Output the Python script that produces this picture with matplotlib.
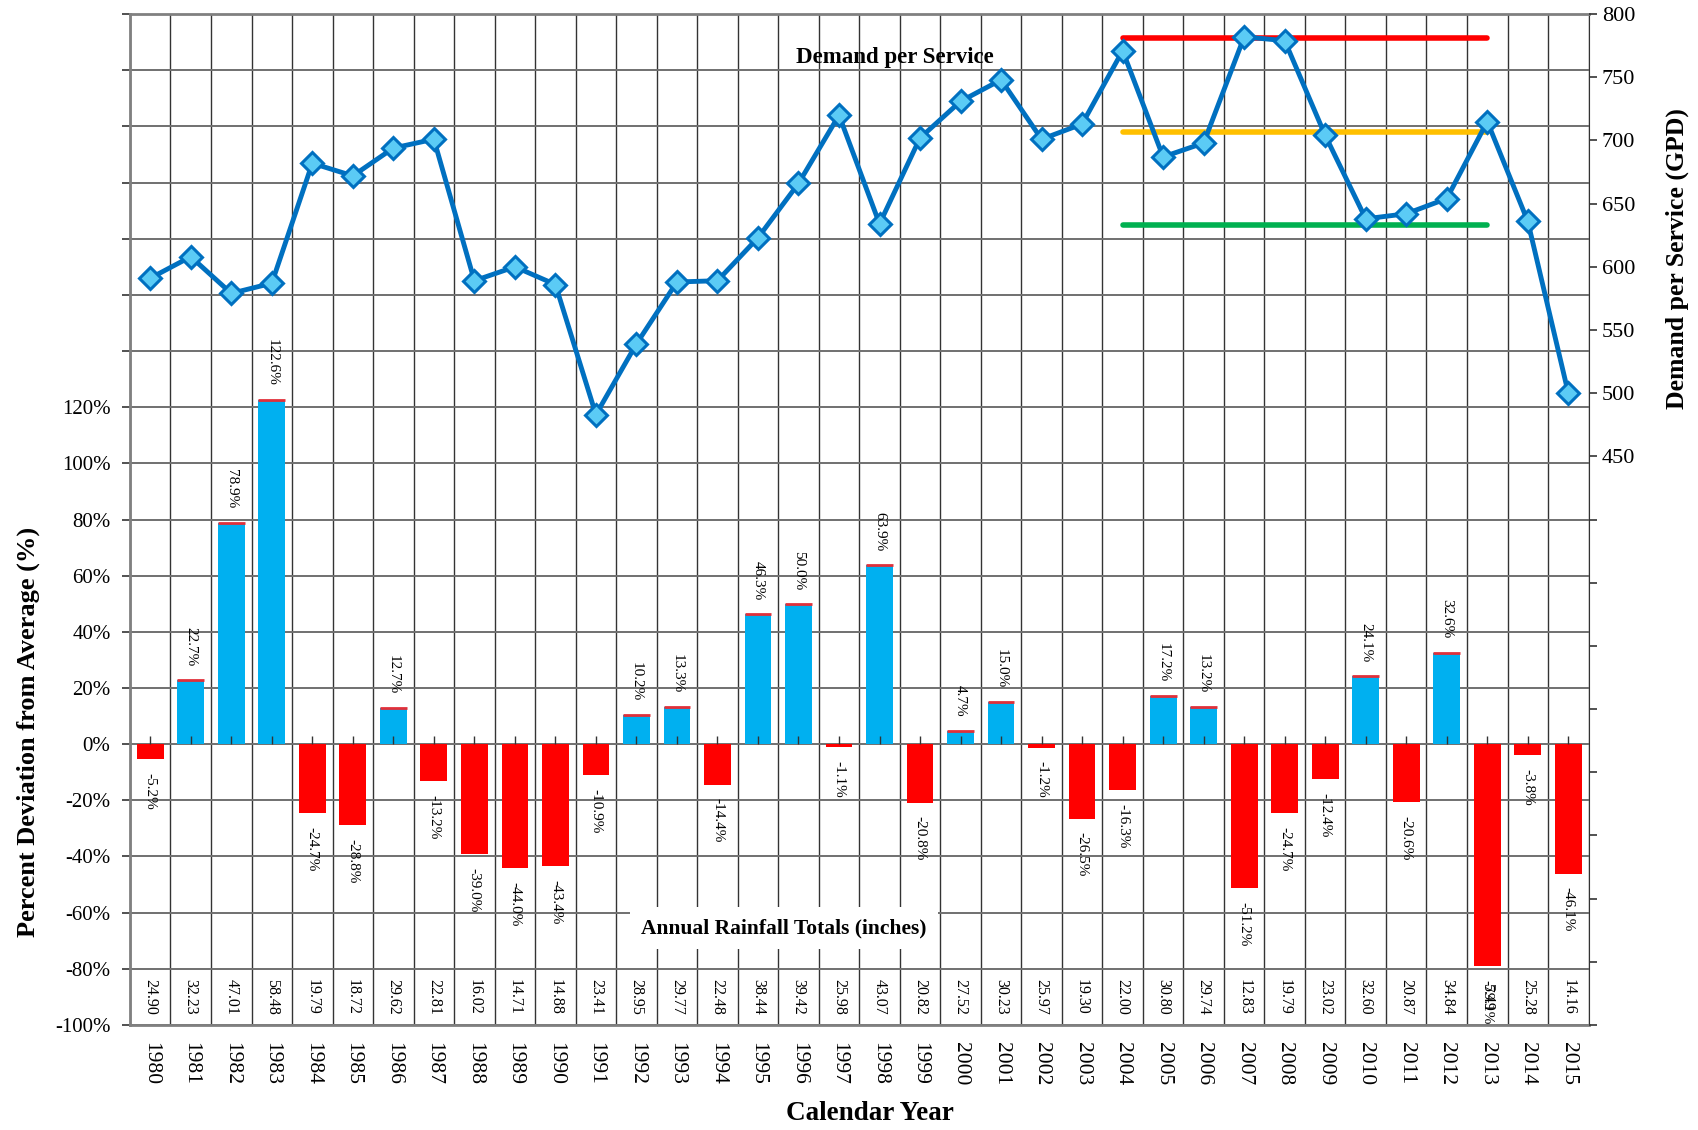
import matplotlib.pyplot as plt
import numpy as np

plt.rcParams['font.family'] = ['Liberation Serif', 'DejaVu Serif']

years = list(range(1980, 2016))
deviation = [-5.2, 22.7, 78.9, 122.6, -24.7, -28.8, 12.7, -13.2, -39.0, -44.0,
             -43.4, -10.9, 10.2, 13.3, -14.4, 46.3, 50.0, -1.1, 63.9, -20.8,
             4.7, 15.0, -1.2, -26.5, -16.3, 17.2, 13.2, -51.2, -24.7, -12.4,
             24.1, -20.6, 32.6, -79.1, -3.8, -46.1]
rainfall = ['24.90', '32.23', '47.01', '58.48', '19.79', '18.72', '29.62', '22.81',
            '16.02', '14.71', '14.88', '23.41', '28.95', '29.77', '22.48', '38.44',
            '39.42', '25.98', '43.07', '20.82', '27.52', '30.23', '25.97', '19.30',
            '22.00', '30.80', '29.74', '12.83', '19.79', '23.02', '32.60', '20.87',
            '34.84', '5.49', '25.28', '14.16']
demand = [591, 608, 579, 587, 682, 672, 694, 701, 589, 600,
          586, 483, 539, 588, 589, 623, 666, 720, 634, 702,
          731, 748, 701, 713, 771, 687, 698, 782, 779, 704,
          638, 642, 654, 715, 636, 500]
ref_start, ref_end = 2004, 2013
ref_levels = [781, 707, 633]
ref_colors = ['#FF0000', '#FFC000', '#00B050']

x = np.arange(len(years))
dev = np.array(deviation)

fig = plt.figure(figsize=(16.99, 11.30), dpi=100)
ax = fig.add_axes([0.0765, 0.093, 0.8585, 0.8945])

# bars
pos = dev >= 0
ax.bar(x[pos], dev[pos], width=0.66, color='#00B0F0', zorder=3)
ax.bar(x[~pos], dev[~pos], width=0.66, color='#FF0000', zorder=3)
ax.hlines(dev[pos], x[pos] - 0.33, x[pos] + 0.33, color='#E0303A', lw=2, zorder=4)

for xi, v in zip(x, dev):
    if v >= 0:
        ax.annotate(f'{v:.1f}%', (xi, v), xytext=(0, 10), textcoords='offset points',
                    rotation=270, ha='center', va='bottom', fontsize=11, zorder=5)
    else:
        ax.annotate(f'{v:.1f}%', (xi, v), xytext=(0, -10), textcoords='offset points',
                    rotation=270, ha='center', va='top', fontsize=11, zorder=5)

# rainfall row
for xi, r in zip(x, rainfall):
    ax.text(xi, -90, r, rotation=270, ha='center', va='center', fontsize=11.5, zorder=5)

# small ticks at zero line
ax.plot(x, np.zeros(len(x)), linestyle='none', marker=2, markersize=6,
        color='#333333', zorder=4)

ax.set_xlim(-0.5, len(years) - 0.5)
ax.set_ylim(-100, 260)
ax.set_yticks(np.arange(-100, 261, 20))
ax.set_yticklabels([f'{t}%' if t <= 120 else '' for t in range(-100, 261, 20)])
ax.set_xticks(x)
ax.set_xticklabels([str(y) for y in years], rotation=270, fontsize=15.5)
ax.set_xticks(np.arange(-0.5, len(years), 1.0), minor=True)
ax.tick_params(axis='x', which='both', length=0, pad=12)
ax.tick_params(axis='y', labelsize=15, length=6, width=1.2, color='#333333', pad=8)
ax.grid(axis='y', which='major', color='#707070', lw=1.4, zorder=1)
ax.grid(axis='x', which='minor', color='#333333', lw=1.0, zorder=1)
for s in ['left', 'bottom', 'top']:
    ax.spines[s].set_color('#808080')
    ax.spines[s].set_linewidth(2)
ax.spines['right'].set_color('#333333')

ax.set_ylabel('Percent Deviation from Average (%)', fontsize=19, fontweight='bold')
ax.yaxis.set_label_coords(-0.062, 0.29)
ax.set_xlabel('Calendar Year', fontsize=19.5, fontweight='bold')
ax.xaxis.set_label_coords(0.507, -0.075)

ax.text(15.64, -65.5, 'Annual Rainfall Totals (inches)', ha='center', va='center',
        fontsize=15.5, fontweight='bold', zorder=6,
        bbox=dict(facecolor='white', edgecolor='none', pad=8))

# demand per service
ax2 = ax.twinx()
ax2.set_ylim(0, 800)
ax2.set_yticks(np.arange(0, 801, 50))
ax2.set_yticklabels([str(t) if t >= 450 else '' for t in range(0, 801, 50)])
ax2.tick_params(axis='y', labelsize=16, length=6, width=1.2, color='#333333')
for s in ax2.spines.values():
    s.set_visible(False)
i0, i1 = years.index(ref_start), years.index(ref_end)
for lvl, c in zip(ref_levels, ref_colors):
    ax2.plot([i0, i1], [lvl, lvl], color=c, lw=4, solid_capstyle='round', zorder=2)
ax2.plot(x, demand, color='#0070C0', lw=3.5, marker='D', markersize=11.5,
         markerfacecolor='#5BCBF5', markeredgecolor='#0070C0', markeredgewidth=2.2, zorder=3)
ax2.set_ylabel('Demand per Service (GPD)', fontsize=18.5, fontweight='bold')
ax2.yaxis.set_label_coords(1.053, 0.758)
ax2.text(18.37, 766, 'Demand per Service', ha='center', va='center',
         fontsize=16.5, fontweight='bold')

fig.savefig('out.png', dpi=100)
